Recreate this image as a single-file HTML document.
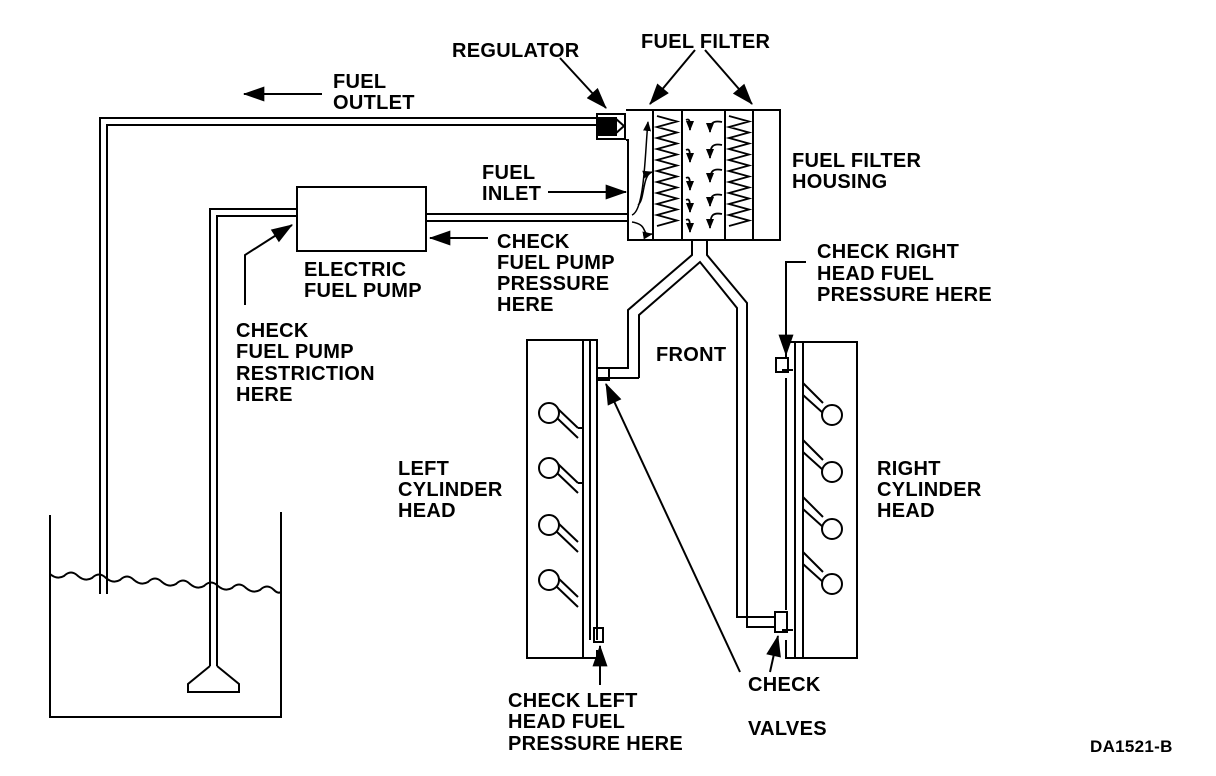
<!DOCTYPE html>
<html><head><style>
html,body{margin:0;padding:0;background:#fff;}
svg{display:block;}
text{font-family:"Liberation Sans",Arial,sans-serif;font-weight:bold;font-size:20px;fill:#000;letter-spacing:0.3px;}
</style></head><body>
<svg width="1216" height="776" viewBox="0 0 1216 776" xmlns="http://www.w3.org/2000/svg">
<defs>
<marker id="ah" markerWidth="10" markerHeight="8" refX="9" refY="4" orient="auto" markerUnits="userSpaceOnUse"><path d="M0,0 L10,4 L0,8 Z" fill="#000"/></marker>
<marker id="ab" viewBox="0 0 20 14" markerWidth="22" markerHeight="15" refX="19" refY="7" orient="auto" markerUnits="userSpaceOnUse"><path d="M0,0 L20,7 L0,14 Z" fill="#000"/></marker>
</defs>
<g fill="none" stroke="#000" stroke-width="2">
<!-- tank -->
<path d="M50,515 V717 H281 V512"/>
<path d="M50,574 q7,6 14,2 q7,-7 14,0 q7,6 14,2 q7,-7 14,0 q7,6 14,2 q7,-7 14,0 q7,6 14,2 q7,-7 14,0 q7,6 14,2 q7,-7 14,0 q7,6 14,2 q7,-7 14,0 q7,6 14,2 q7,-7 14,0 q7,6 14,2 q7,-7 14,0 q4,4 7,2"/>
<!-- outlet pipe -->
<path d="M100,594 V118 H597"/>
<path d="M107,594 V125 H597"/>
<!-- suction pipe -->
<path d="M210,666 V209 H297"/>
<path d="M217,666 V216 H297"/>
<path d="M210,666 L188,684 V692 H239 V684 L217,666"/>
<!-- pump -->
<rect x="297" y="187" width="129" height="64"/>
<path d="M426,214 H628 M426,221 H628"/>
<!-- regulator -->
<rect x="597" y="114" width="28" height="25"/>
<rect x="599" y="118" width="17" height="17" fill="#000"/>
<path d="M615,118 L624,126 L615,134"/>
<!-- filter housing -->
<path d="M626,110 H780 V240 H628 V140 H626"/>
<path d="M653,110 V240 M682,110 V240 M725,110 V240 M753,110 V240"/>
<path d="M657,116 l20,5.5 l-20,5.5 l20,5.5 l-20,5.5 l20,5.5 l-20,5.5 l20,5.5 l-20,5.5 l20,5.5 l-20,5.5 l20,5.5 l-20,5.5 l20,5.5 l-20,5.5 l20,5.5 l-20,5.5 l20,5.5 l-20,5.5 l20,5.5 l-20,5.5" stroke-width="1.8"/>
<path d="M729,116 l20,5.5 l-20,5.5 l20,5.5 l-20,5.5 l20,5.5 l-20,5.5 l20,5.5 l-20,5.5 l20,5.5 l-20,5.5 l20,5.5 l-20,5.5 l20,5.5 l-20,5.5 l20,5.5 l-20,5.5 l20,5.5 l-20,5.5 l20,5.5 l-20,5.5" stroke-width="1.8"/>
<!-- inner flow arrows -->
<path d="M632,215 C645,210 645,150 648,122" marker-end="url(#ah)" stroke-width="1.5"/>
<path d="M632,222 C650,225 640,236 652,234" marker-end="url(#ah)" stroke-width="1.5"/>
<path d="M638,205 C645,200 642,175 652,172" marker-end="url(#ah)" stroke-width="1.5"/>
<g stroke-width="1.8">
<path d="M686,120 C690,118 690,122 690,130" marker-end="url(#ah)"/>
<path d="M686,150 C690,148 690,152 690,162" marker-end="url(#ah)"/>
<path d="M686,178 C690,176 690,180 690,190" marker-end="url(#ah)"/>
<path d="M686,200 C690,198 690,202 690,212" marker-end="url(#ah)"/>
<path d="M686,220 C690,218 690,222 690,232" marker-end="url(#ah)"/>
<path d="M722,122 C712,120 710,124 710,132" marker-end="url(#ah)"/>
<path d="M722,145 C712,143 710,147 710,158" marker-end="url(#ah)"/>
<path d="M722,170 C712,168 710,172 710,182" marker-end="url(#ah)"/>
<path d="M722,195 C712,193 710,197 710,206" marker-end="url(#ah)"/>
<path d="M722,214 C712,212 710,216 710,228" marker-end="url(#ah)"/>
</g>
<!-- outlet Y pipes -->
<path d="M692,240 V255 L628,310 V368 H598"/>
<path d="M707,240 V255 L747,303 V627 H776"/>
<path d="M639,378 V315 L700,262 L737,308 V617 H776"/>
<path d="M639,378 H598"/>
<!-- left head -->
<path d="M527,340 H583 V658 H527 Z"/>
<path d="M583,340 H597 V368 M597,378 V640 M583,658 H597 V650"/>
<path d="M590,340 V640 M590,368 V378"/>
<rect x="597" y="368" width="12" height="12"/>
<rect x="594" y="628" width="9" height="14"/>
<g>
<path d="M557,408 L578,428 M557,418 L578,438"/>
<path d="M557,463 L578,483 M557,473 L578,493"/>
<path d="M557,522 L578,542 M557,532 L578,552"/>
<path d="M557,577 L578,597 M557,587 L578,607"/>
</g>
<circle cx="549" cy="413" r="10" fill="#fff"/>
<circle cx="549" cy="468" r="10" fill="#fff"/>
<circle cx="549" cy="525" r="10" fill="#fff"/>
<circle cx="549" cy="580" r="10" fill="#fff"/>
<path d="M583,428 L578,428 M583,483 L578,483"/>
<!-- right head -->
<path d="M795,342 H857 V658 H795 Z"/>
<path d="M803,342 V658"/>
<path d="M786,342 V358 M786,378 V610 M786,640 V658 H795 M795,342 H786"/>
<path d="M782,370 H793 M782,630 H793"/>
<rect x="776" y="358" width="12" height="14"/>
<rect x="775" y="612" width="12" height="20"/>
<g>
<path d="M803,383 L823,403 M803,395 L823,413"/>
<path d="M803,440 L823,460 M803,452 L823,470"/>
<path d="M803,497 L823,517 M803,509 L823,527"/>
<path d="M803,552 L823,572 M803,564 L823,582"/>
</g>
<circle cx="832" cy="415" r="10" fill="#fff"/>
<circle cx="832" cy="472" r="10" fill="#fff"/>
<circle cx="832" cy="529" r="10" fill="#fff"/>
<circle cx="832" cy="584" r="10" fill="#fff"/>
<!-- label arrows -->
<path d="M322,94 H244" marker-end="url(#ab)"/>
<path d="M560,58 L606,108" marker-end="url(#ab)"/>
<path d="M695,50 L650,104" marker-end="url(#ab)"/>
<path d="M705,50 L752,104" marker-end="url(#ab)"/>
<path d="M548,192 H626" marker-end="url(#ab)"/>
<path d="M488,238 H430" marker-end="url(#ab)"/>
<path d="M245,305 V255 L292,225" marker-end="url(#ab)"/>
<path d="M806,262 H786 V355" marker-end="url(#ab)"/>
<path d="M600,685 V646" marker-end="url(#ab)"/>
<path d="M740,672 L606,384" marker-end="url(#ab)"/>
<path d="M770,672 L778,636" marker-end="url(#ab)"/>
</g>
<text x="452" y="57">REGULATOR</text>
<text x="641" y="48">FUEL FILTER</text>
<text x="333" y="88">FUEL</text>
<text x="333" y="109">OUTLET</text>
<text x="482" y="179">FUEL</text>
<text x="482" y="200">INLET</text>
<text x="792" y="167">FUEL FILTER</text>
<text x="792" y="188">HOUSING</text>
<text x="497" y="248">CHECK</text>
<text x="497" y="269">FUEL PUMP</text>
<text x="497" y="290">PRESSURE</text>
<text x="497" y="311">HERE</text>
<text x="304" y="276">ELECTRIC</text>
<text x="304" y="297">FUEL PUMP</text>
<text x="236" y="337">CHECK</text>
<text x="236" y="358">FUEL PUMP</text>
<text x="236" y="380">RESTRICTION</text>
<text x="236" y="401">HERE</text>
<text x="817" y="258">CHECK RIGHT</text>
<text x="817" y="280">HEAD FUEL</text>
<text x="817" y="301">PRESSURE HERE</text>
<text x="656" y="361">FRONT</text>
<text x="398" y="475">LEFT</text>
<text x="398" y="496">CYLINDER</text>
<text x="398" y="517">HEAD</text>
<text x="877" y="475">RIGHT</text>
<text x="877" y="496">CYLINDER</text>
<text x="877" y="517">HEAD</text>
<text x="508" y="707">CHECK LEFT</text>
<text x="508" y="728">HEAD FUEL</text>
<text x="508" y="750">PRESSURE HERE</text>
<text x="748" y="691">CHECK</text>
<text x="748" y="735">VALVES</text>
<text x="1090" y="752" style="font-size:17px">DA1521-B</text>
</svg>
</body></html>
